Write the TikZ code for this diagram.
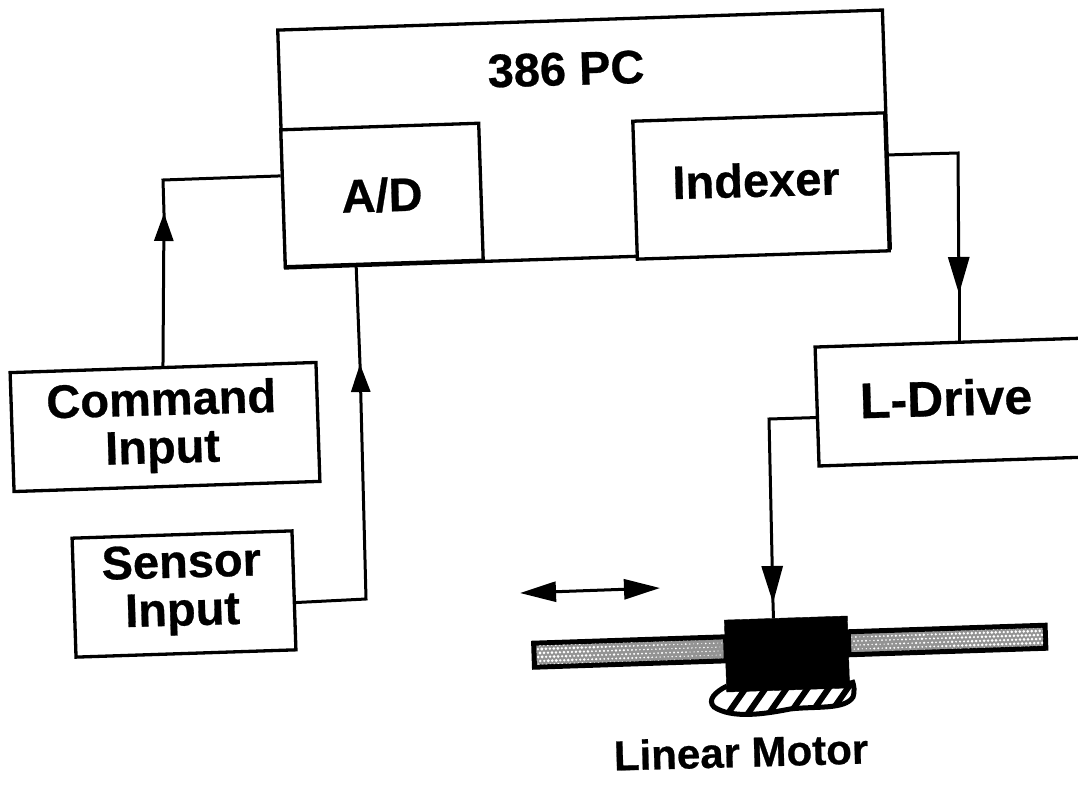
\documentclass[tikz,border=0pt]{standalone}
\usepackage{fontspec}
\setmainfont[BoldFeatures={FakeBold=0.6}]{Liberation Sans}
\usetikzlibrary{arrows.meta,calc}
\tikzset{
  box/.style={draw=black,line width=3.3pt,fill=white,rectangle,inner sep=0pt,rotate=1.9},
  lbl/.style={inner sep=0pt,rotate=1.6,font=\fontsize{47}{48}\selectfont\bfseries,align=center},
  wire/.style={line width=3pt,draw=black},
  after/.style={wire,shorten <=-10pt},
  smalltip/.style={wire,-{Triangle[length=28pt,width=19pt]}},
  bigtip/.style={wire,-{Triangle[length=37pt,width=21pt]}},
  rail/.style={draw=black,line width=5pt,rectangle,inner sep=0pt,rotate=1.9},
}
\begin{document}
\begin{tikzpicture}[x=1pt,y=-1pt]
\useasboundingbox (0,0) rectangle (1078,795);
\clip (0,0) rectangle (1078,795);
\node[box,minimum width=605pt,minimum height=238pt] (pc) at (584,139) {};
\node[lbl] (pclabel) at (566,69) {386 PC};
\node[box,minimum width=198pt,minimum height=137pt] (ad) at (382,195) {};
\node[lbl] (adlabel) at (382,195) {A/D};
\node[box,minimum width=252pt,minimum height=138pt] (idx) at (761,186) {};
\node[lbl] (idxlabel) at (756,180) {Indexer};
\node[box,minimum width=306pt,minimum height=119pt] (cmd) at (165,427) {};
\node[lbl] (cmdlabel) at (162,427) {Command\\Input};
\node[box,minimum width=220pt,minimum height=119pt] (sen) at (184,594) {};
\node[lbl] (senlabel) at (182,590) {Sensor\\Input};
\node[box,minimum width=272pt,minimum height=119pt] (ldr) at (953,402) {};
\node[lbl,font=\fontsize{50}{52}\selectfont\bfseries] (ldrlabel) at (946,398) {L-Drive};
% rails
\node[rail,fill=gray!85,minimum width=192pt,minimum height=24pt] (railL) at (630,652) {};
\node[rail,fill=gray!85,minimum width=197pt,minimum height=23pt] (railR) at (947,640) {};
\pgfmathsetseed{7}
\begin{scope}[shift={(railL.center)},rotate=1.9]
  \clip (-93,-9.5) rectangle (93,9.5);
  \foreach \i in {0,...,46}{\foreach \j in {0,...,5}{
    \pgfmathsetmacro{\r}{max(0.45,1.75-0.026*\i+0.6*rnd)}
    \fill[white] ({-94+\i*4+mod(\j,2)*2},{-10+\j*4}) circle[radius=\r*0.75];
  }}
\end{scope}
\begin{scope}[shift={(railR.center)},rotate=1.9]
  \clip (-96,-9) rectangle (96,9);
  \foreach \i in {0,...,48}{\foreach \j in {0,...,5}{
    \pgfmathsetmacro{\r}{min(2,0.7+0.026*\i+0.7*rnd)}
    \fill[white] ({-97+\i*4+mod(\j,2)*2},{-10+\j*4}) circle[radius=\r*0.75];
  }}
\end{scope}
% foot
\begin{scope}
\path[clip] (727,686) .. controls (715,692) and (707,700) .. (714,707)
  .. controls (732,719) and (765,714) .. (790,709)
  .. controls (815,706) and (845,710) .. (853,697)
  .. controls (855,692) and (854,685) .. (852,680) -- cycle;
\fill[white] (700,670) rectangle (865,725);
\foreach \x in {736,756,777,798,819,838}{
  \draw[line width=6pt,black] ({\x-14},722) -- ({\x+14},682);
}
\end{scope}
\draw[line width=5pt,black] (727,686) .. controls (715,692) and (707,700) .. (714,707)
  .. controls (732,719) and (765,714) .. (790,709)
  .. controls (815,706) and (845,710) .. (853,697)
  .. controls (855,692) and (854,685) .. (852,680);
\node[draw=black,fill=black,rectangle,inner sep=0pt,rotate=1.9,minimum width=123pt,minimum height=72pt] (motor) at (787,654) {};
\node[lbl,font=\fontsize{42}{44}\selectfont\bfseries] (motorlabel) at (741,752) {Linear Motor};
% connectors
\coordinate (c1) at (164,213);
\coordinate (c1b) at (163,180);
\draw[smalltip] (cmd.north) -- (c1);
\draw[after] (c1) -- (c1b) -- ($(ad.north west)!0.34!(ad.south west)$);
\coordinate (s1) at (360,364);
\coordinate (s1b) at (366,599);
\draw[smalltip] ($(sen.north east)!0.6!(sen.south east)$) -- (s1b) -- (s1);
\draw[after] (s1) -- ($(ad.south west)!0.36!(ad.south east)$);
\coordinate (i1) at (958,153);
\coordinate (i2) at (959,294);
\draw[bigtip] ($(idx.north east)!0.31!(idx.south east)$) -- (i1) -- (i2);
\draw[after] (i2) -- (ldr.north -| i2);
\coordinate (l1) at (769,419);
\coordinate (l2) at (773,603);
\draw[bigtip] ($(ldr.north west)!0.59!(ldr.south west)$) -- (l1) -- (l2);
\draw[after] (l2) -- ($(motor.north west)!0.4!(motor.north east)$);
\coordinate (d1) at (520,593);
\coordinate (d2) at (660,588);
\draw[wire,{Triangle[length=36pt,width=20pt]}-{Triangle[length=36pt,width=20pt]}] (d1) -- (d2);
\end{tikzpicture}
\end{document}
